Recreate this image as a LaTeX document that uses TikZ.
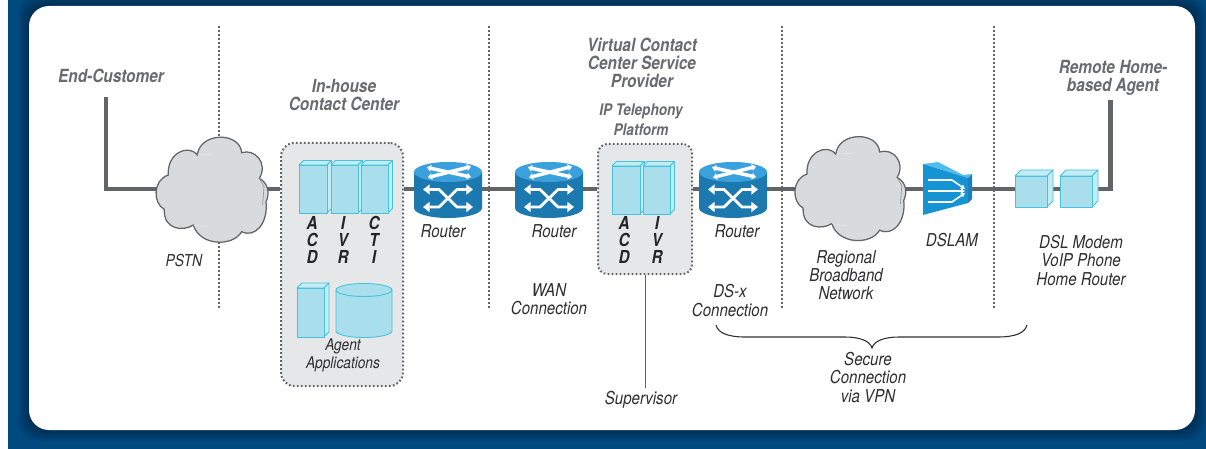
\documentclass[tikz,border=0pt]{standalone}
\usepackage{fontspec}
\setmainfont[FakeStretch=0.85]{TeX Gyre Heros}
\usetikzlibrary{arrows.meta}
\definecolor{navy}{HTML}{004A80}
\definecolor{cloudfill}{HTML}{D9DADC}
\definecolor{cloudline}{HTML}{646567}
\definecolor{boxfill}{HTML}{E6E7E9}
\definecolor{linegray}{HTML}{636466}
\definecolor{headgray}{HTML}{6A6B6E}
\definecolor{textdark}{HTML}{2F2F31}
\definecolor{rbody}{HTML}{1B79B0}
\definecolor{rtop}{HTML}{3AA1DC}
\definecolor{dfront}{HTML}{1593D3}
\definecolor{dtop}{HTML}{4FBDEE}
\definecolor{dside}{HTML}{1B7FBC}
\definecolor{cfront}{HTML}{A9DFEC}
\definecolor{ctop}{HTML}{C4ECF4}
\definecolor{cline}{HTML}{45C3DC}
\tikzset{
  x=0.75pt,y=-0.75pt,
  hit/.style={inner sep=0pt,outer sep=0pt,minimum width=#1*0.75pt,minimum height=20pt},
  mainline/.style={draw=linegray,line width=3.7pt},
  vdots/.style={draw=linegray,line width=1.5pt,dash pattern=on 1.3pt off 1.7pt},
  group/.style={fill=boxfill,draw=linegray,line width=1.5pt,dash pattern=on 1.3pt off 1.7pt,inner sep=0pt},
  head/.style={align=center,inner sep=0pt,text=headgray,font=\fontsize{13.6}{13.6}\selectfont\bfseries\itshape},
  subhead/.style={align=center,inner sep=0pt,text=headgray,font=\fontsize{12}{14.8}\selectfont\bfseries\itshape},
  lbl/.style={align=center,inner sep=0pt,text=textdark,font=\fontsize{13.3}{13.7}\selectfont\itshape},
  smalllbl/.style={lbl,font=\fontsize{12.1}{14}\selectfont\itshape},
  letters/.style={align=center,inner sep=0pt,text=textdark!80!black,font=\fontsize{13.4}{12.75}\selectfont\bfseries\itshape},
  cub/.style={draw=cline,line width=0.65pt,line join=round},
  warrow/.style={draw=white,line width=2.1pt,{Triangle[length=5pt,width=7.5pt]}-{Triangle[length=5pt,width=7.5pt]}},
  warrowtop/.style={draw=white,line width=2.6pt,{Triangle[length=3pt,width=5pt]}-{Triangle[length=3pt,width=5pt]}},
  dslarrow/.style={draw=white,line width=1.2pt,-{Triangle[length=3pt,width=3.5pt]}},
  thinline/.style={draw=linegray,line width=0.7pt},
}
\newcommand{\cuboid}[5]{%
  \fill[ctop,cub] (#1,#2) -- ({#1+#5},{#2-#5}) -- ({#3+#5},{#2-#5}) -- (#3,#2) -- cycle;
  \fill[ctop,cub] (#3,#2) -- ({#3+#5},{#2-#5}) -- ({#3+#5},{#4-#5}) -- (#3,#4) -- cycle;
  \fill[cfront,cub] (#1,#2) rectangle (#3,#4);
}
\newcommand{\routerpic}[1]{%
  \begin{scope}[shift={(#1,189)}]
    \fill[rbody] (-34,-17) -- (-34,19) arc[start angle=180,end angle=0,x radius=34,y radius=10] -- (34,-17) -- cycle;
    \fill[rtop] (0,-17) ellipse[x radius=34,y radius=10];
    \draw[warrowtop] (-21,-21.5) -- (23,-12);
    \draw[warrowtop] (-20,-11.5) -- (23,-22.5);
    \draw[warrow] (-25,0.5) -- (-9,0.5) -- (9,18) -- (25,18);
    \draw[warrow] (-25,18) -- (-9,18) -- (9,0.5) -- (25,0.5);
  \end{scope}
}
\newcommand{\cloudpic}[3]{%
  \begin{scope}[shift={(#1,#2)},xscale=#3/3,yscale=#3/3]
    \fill[cloudfill,draw=cloudline,line width=0.95pt]
      (172,75) .. controls (180,5) and (300,5) .. (305,68)
      .. controls (345,55) and (385,100) .. (358,145)
      .. controls (385,160) and (390,190) .. (378,215)
      .. controls (385,280) and (345,325) .. (305,305)
      .. controls (280,350) and (180,350) .. (160,285)
      .. controls (130,305) and (70,300) .. (73,238)
      .. controls (38,220) and (38,150) .. (85,135)
      .. controls (80,70) and (145,40) .. (172,75) -- cycle;
    \draw[white!85!cloudline,line width=0.4pt] (172,75) -- (222,72) (160,285) -- (205,292);
    \draw[cloudline!70,line width=0.5pt] (358,145) -- (372,170) -- (368,225);
  \end{scope}
}
\begin{document}
\begin{tikzpicture}
\useasboundingbox (0,0) rectangle (1206,449);
\fill[white] (0,0) rectangle (1206,449);
\fill[navy] (8,0) rectangle (1206,449);
\begin{scope}
  \clip (8,0) rectangle (1206,449);
  \foreach \i in {11,10,...,1}{
    \fill[black,opacity=0.03,rounded corners=15pt] ({29-\i},{6-\i}) rectangle ({1195+\i},{430+\i});
  }
\end{scope}
\fill[white,rounded corners=15pt] (29,6) rectangle (1195,430);

% invisible anchors of the connected shapes
\coordinate (cust) at (106,97);
\coordinate (agent) at (1110.5,100);
\node[hit=100] (pstn) at (212,189) {};
\node[hit=100] (regional) at (850,189) {};
\node[hit=68] (r1) at (448,189) {};
\node[hit=68] (r2) at (549,189) {};
\node[hit=68] (r3) at (733,189) {};
\node[hit=46] (dslam) at (947,189) {};
\node[hit=32] (dev1) at (1031,189) {};
\node[hit=32] (dev2) at (1076,189) {};
\coordinate (supv) at (645,388);

% dotted dividers
\coordinate (d1a) at (219,26); \coordinate (d1b) at (219,308);
\coordinate (d2a) at (489,26); \coordinate (d2b) at (489,308);
\coordinate (d3a) at (781.5,26); \coordinate (d3b) at (781.5,308);
\coordinate (d4a) at (994,26); \coordinate (d4b) at (994,308);

\node[group,rounded corners=10pt,minimum width=91.5pt,minimum height=182.25pt] (inhouse) at (342,264.5) {};
\node[group,rounded corners=7pt,minimum width=70.5pt,minimum height=97.5pt] (ipbox) at (645,209) {};

\draw[mainline,line join=miter] (cust) |- (pstn);
\draw[mainline] (pstn) -- (pstn -| inhouse.west);
\draw[mainline] (r1 -| inhouse.east) -- (r1);
\draw[mainline] (r1) -- (r2);
\draw[mainline] (r2) -- (r2 -| ipbox.west);
\draw[mainline] (r3 -| ipbox.east) -- (r3);
\draw[mainline] (r3) -- (regional);
\draw[mainline] (regional) -- (dslam);
\draw[mainline] (dslam) -- (dev1);
\draw[mainline] (dev1) -- (dev2);
\draw[mainline,line join=miter] (dev2) -| (agent);
\draw[thinline] (ipbox) -- (supv);
\draw[vdots] (d1a) -- (d1b);
\draw[vdots] (d2a) -- (d2b);
\draw[vdots] (d3a) -- (d3b);
\draw[vdots] (d4a) -- (d4b);

% clouds
\cloudpic{140}{130}{1}
\cloudpic{779}{129.5}{0.99}

% in-house contents
\cuboid{299}{165}{327}{213}{4.5}
\cuboid{331}{165}{358}{213}{4.5}
\cuboid{361}{165}{388}{213}{4.5}
\cuboid{297}{288}{324}{337}{5}
\fill[cfront,cub] (336,290) -- (336,331) arc[start angle=180,end angle=0,x radius=28,y radius=6.5] -- (392,290) -- cycle;
\draw[cub,fill=cfront] (364,290) ellipse[x radius=28,y radius=6.5];

% IP platform contents
\cuboid{612}{166}{640}{214}{4.5}
\cuboid{643}{166}{670}{214}{4.5}

% routers
\routerpic{448}
\routerpic{549}
\routerpic{733}

% DSLAM
\fill[dtop] (923,164) -- (938,162) -- (963,175) -- (972,174) -- (968,178) -- cycle;
\fill[dside] (968,178) -- (972,174) -- (972,199) -- (968,203) -- cycle;
\fill[dfront] (923,164) -- (968,178) -- (968,203) -- (923,215) -- cycle;
\draw[dslarrow,line join=round] (928,180) -- (952,180) -- (965,189);
\draw[dslarrow] (928,191) -- (965,191);
\draw[dslarrow,line join=round] (928,202) -- (952,202) -- (965,193);

% devices
\cuboid{1015}{176}{1047}{207}{6}
\cuboid{1060}{176}{1092}{207}{6}

% brace
\coordinate (bl) at (716,325);
\coordinate (br) at (1027,325);
\coordinate (bt) at (872,348);
\draw[textdark,line width=0.8pt] (bl) .. controls (718,333) and (728,337) .. (745,337)
  -- (845,337) .. controls (860,337) and (870,341) .. (bt)
  .. controls (874,341) and (884,337) .. (899,337)
  -- (998,337) .. controls (1015,337) and (1025,333) .. (br);

% headings
\node[head] (tcust) at (111,75.5) {End-Customer};
\node[head] (tinh) at (344,95) {In-house\\Contact Center};
\node[head] (tvcc) at (642,63) {Virtual Contact\\Center Service\\Provider};
\node[subhead] (tipt) at (641,120) {IP Telephony\\Platform};
\node[head] (trem) at (1113,77.5) {Remote Home-\\based Agent};

% labels
\node[lbl,font=\fontsize{12.3}{13.7}\selectfont\itshape] (tpstn) at (184,261) {PSTN};
\node[lbl] (tr1) at (443,231) {Router};
\node[lbl] (tr2) at (554,231) {Router};
\node[lbl] (tr3) at (737,231) {Router};
\node[lbl] (twan) at (549,299.5) {WAN\\Connection};
\node[lbl] (tdsx) at (730,300.5) {DS-x\\Connection};
\node[lbl] (treg) at (846,275) {Regional\\Broadband\\Network};
\node[lbl] (tdsl) at (952,240) {DSLAM};
\node[lbl] (tdev) at (1081,260.5) {DSL Modem\\VoIP Phone\\Home Router};
\node[lbl] (tsec) at (868,377.5) {Secure\\Connection\\via VPN};
\node[smalllbl] (tapp) at (343,355.5) {Agent\\Applications};
\node[lbl] (tsup) at (641,400) {Supervisor};
\node[letters] (a1) at (312,240) {A\\C\\D};
\node[letters] (a2) at (343,240) {I\\V\\R};
\node[letters] (a3) at (374,240) {C\\T\\I};
\node[letters] (b1) at (624,240) {A\\C\\D};
\node[letters] (b2) at (657,240) {I\\V\\R};
\end{tikzpicture}
\end{document}
